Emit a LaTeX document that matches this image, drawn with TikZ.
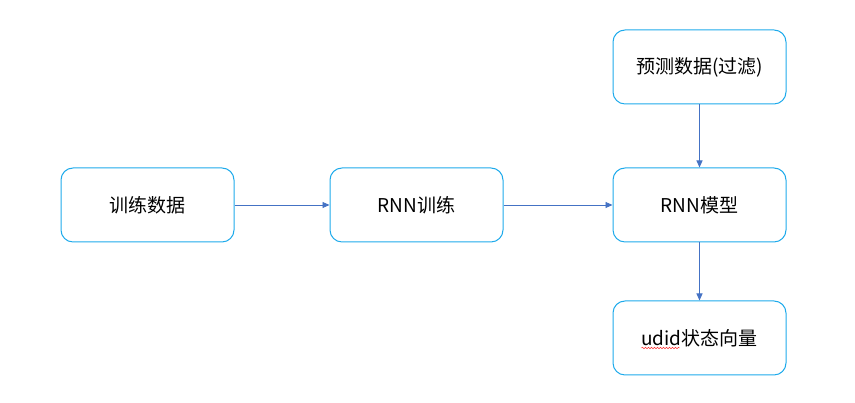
\documentclass[tikz,border=0pt]{standalone}
\usepackage{fontspec}
\setmainfont{Liberation Sans}
\newfontfamily\cjk{Noto Sans CJK SC}
\usepackage{xcolor}
\usetikzlibrary{arrows.meta,positioning,decorations.pathmorphing}
\definecolor{boxblue}{RGB}{30,170,235}
\definecolor{arrowblue}{RGB}{68,114,196}

\begin{document}
\begin{tikzpicture}[
        x=1pt, y=1pt,
        box/.style={draw=boxblue, line width=1pt, rounded corners=12pt, minimum width=173pt, minimum height=74pt, font=\cjk\fontsize{19}{22}\selectfont},
        every path/.style={line width=0.9pt},
        flow/.style={draw=arrowblue, -{Triangle[length=7pt, width=6pt]}}
    ]
    \useasboundingbox (0,0) rectangle (855,403);
    \node[box] (data) at (147.5,198) {训练数据};
    \node[box, right=95pt of data] (train) {RNN训练};
    \node[box, right=109pt of train] (model) {RNN模型};
    \node[box, above=63pt of model] (pred) {预测数据(过滤)};
    \node[box, below=58pt of model] (udid) {udid状态向量};
    \draw[flow] (data) -- (train);
    \draw[flow] (train) -- (model);
    \draw[flow] (pred) -- (model);
    \draw[flow] (model) -- (udid);
    % spell-check squiggle under udid
    \draw[red!80, line width=0.5pt, decorate, decoration={snake, amplitude=0.8pt, segment length=3pt}] ([xshift=-58pt, yshift=-10pt]udid.center) -- ([xshift=-20pt, yshift=-10pt]udid.center);
\end{tikzpicture}
\end{document}
